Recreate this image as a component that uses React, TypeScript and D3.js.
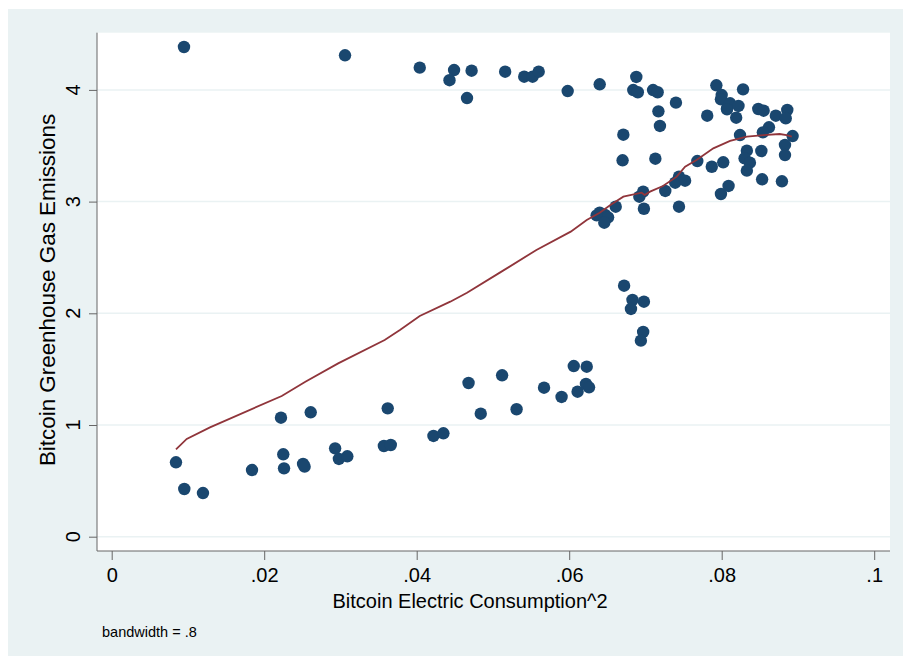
import React, { useEffect, useRef } from "react";
import * as d3 from "d3";

// electricity consumption^2 (x) and greenhouse gas emissions (y)
const consumption = [
  0.00948, 0.0306, 0.0404, 0.0449, 0.0443, 0.0472, 0.0466, 0.0516, 0.0541, 0.0552,
  0.056, 0.0598, 0.064, 0.0688, 0.0684, 0.069, 0.071, 0.0716, 0.074, 0.0717,
  0.0719, 0.0671, 0.067, 0.0713, 0.0768, 0.0787, 0.0802, 0.0793, 0.08, 0.0799,
  0.0807, 0.0781, 0.0799, 0.0809, 0.0744, 0.0739, 0.0752, 0.0726, 0.0697, 0.0692,
  0.0698, 0.0744, 0.0661, 0.064, 0.0647, 0.0636, 0.0651, 0.0646, 0.0811, 0.0807,
  0.0822, 0.0828, 0.0819, 0.0848, 0.0855, 0.0871, 0.0886, 0.0884, 0.0893, 0.0862,
  0.0854, 0.0824, 0.0833, 0.083, 0.0837, 0.0833, 0.0852, 0.0883, 0.0883, 0.0853,
  0.0879, 0.0672, 0.0683, 0.0698, 0.0681, 0.0697, 0.0694, 0.0606, 0.0623, 0.0622,
  0.0626, 0.0611, 0.0567, 0.059, 0.0512, 0.0531, 0.0468, 0.0484, 0.0422, 0.0435,
  0.00843, 0.00952, 0.01197, 0.0184, 0.0222, 0.0225, 0.0226, 0.0251, 0.0253, 0.0261,
  0.0293, 0.0298, 0.0309, 0.0362, 0.0357, 0.0366,
];
const emissions = [
  4.384, 4.31, 4.199, 4.178, 4.087, 4.172, 3.927, 4.163, 4.118, 4.118,
  4.163, 3.99, 4.05, 4.116, 3.999, 3.979, 3.999, 3.979, 3.886, 3.808,
  3.677, 3.599, 3.37, 3.384, 3.363, 3.312, 3.352, 4.041, 3.954, 3.916,
  3.835, 3.769, 3.068, 3.14, 3.223, 3.169, 3.187, 3.095, 3.089, 3.044,
  2.936, 2.954, 2.954, 2.901, 2.88, 2.877, 2.859, 2.811, 3.88, 3.826,
  3.856, 4.005, 3.751, 3.829, 3.814, 3.769, 3.82, 3.746, 3.587, 3.665,
  3.62, 3.596, 3.456, 3.388, 3.348, 3.277, 3.453, 3.507, 3.417, 3.2,
  3.182, 2.247, 2.119, 2.104, 2.039, 1.833, 1.755, 1.528, 1.522, 1.367,
  1.337, 1.298, 1.334, 1.251, 1.445, 1.141, 1.376, 1.101, 0.902, 0.926,
  0.666, 0.427, 0.391, 0.597, 1.065, 0.738, 0.612, 0.651, 0.627, 1.114,
  0.791, 0.696, 0.72, 1.149, 0.812, 0.821,
];

// lowess curve (bandwidth .8)
const lowessX = [
  0.00843, 0.00984, 0.01289, 0.0223, 0.0254, 0.0297, 0.0358, 0.0378, 0.0404, 0.0444,
  0.0466, 0.0509, 0.0557, 0.0602, 0.0623, 0.064, 0.0654, 0.0671, 0.0695, 0.0699,
  0.0706, 0.0723, 0.0741, 0.0752, 0.0767, 0.0789, 0.0811, 0.0833, 0.0855, 0.0876,
  0.0885, 0.0892,
];
const lowessY = [
  0.782, 0.875, 0.979, 1.26, 1.388, 1.552, 1.761, 1.851, 1.976, 2.104,
  2.184, 2.364, 2.567, 2.731, 2.835, 2.901, 2.97, 3.044, 3.08, 3.059,
  3.089, 3.14, 3.223, 3.312, 3.372, 3.477, 3.543, 3.581, 3.596, 3.605,
  3.596, 3.581,
];

const xTicks = [0, 0.02, 0.04, 0.06, 0.08, 0.1];
const xTickLabels = ["0", ".02", ".04", ".06", ".08", ".1"];
const yTicks = [0, 1, 2, 3, 4];
const yTickLabels = ["0", "1", "2", "3", "4"];

const W = 903, H = 662;
const font = "'Liberation Sans', Arial, sans-serif";

export default function App() {
  const ref = useRef<SVGSVGElement>(null);

  useEffect(() => {
    const svg = d3.select(ref.current);
    svg.selectAll("*").remove();

    // outer graph region
    svg.append("rect").attr("x", 8).attr("y", 9).attr("width", W - 8).attr("height", 647)
      .attr("fill", "#eaf2f3");

    const left = 97, right = 890, top = 32.7, bottom = 551;
    svg.append("rect").attr("x", left).attr("y", top)
      .attr("width", right - left).attr("height", bottom - top).attr("fill", "#ffffff");

    const x = d3.scaleLinear().domain([0, 0.1]).range([111.7, 874.2]);
    const y = d3.scaleLinear().domain([0, 4]).range([536.7, 89.9]);

    // gridlines
    svg.append("g").selectAll("line").data(yTicks).enter().append("line")
      .attr("x1", left).attr("x2", right)
      .attr("y1", d => y(d)).attr("y2", d => y(d))
      .attr("stroke", "#eaf2f3").attr("stroke-width", 1.5);

    // y axis (labels drawn separately, rotated like Stata)
    const yAxis = svg.append("g").attr("transform", `translate(${left},0)`)
      .call(d3.axisLeft(y).tickValues(yTicks).tickSize(8).tickSizeOuter(0).tickFormat(() => ""));
    yAxis.select(".domain").attr("d", `M0,${top}V${bottom}`).attr("stroke", "#666666");
    yAxis.selectAll(".tick line").attr("stroke", "#666666");

    svg.append("g").selectAll("text").data(yTicks).enter().append("text")
      .attr("transform", d => `translate(80,${y(d)}) rotate(-90)`)
      .attr("text-anchor", "middle")
      .attr("font-family", font).attr("font-size", 20).attr("fill", "#000")
      .text((d, i) => yTickLabels[i]);

    // x axis
    const xAxis = svg.append("g").attr("transform", `translate(0,${bottom})`)
      .call(d3.axisBottom(x).tickValues(xTicks).tickSize(9).tickPadding(8).tickSizeOuter(0)
        .tickFormat((d, i) => xTickLabels[i]));
    xAxis.select(".domain").attr("d", `M${left},0H${right}`).attr("stroke", "#666666");
    xAxis.selectAll(".tick line").attr("stroke", "#666666");
    xAxis.selectAll(".tick text").attr("font-family", font).attr("font-size", 20).attr("fill", "#000");

    // titles
    svg.append("text").attr("x", 470).attr("y", 608).attr("text-anchor", "middle")
      .attr("font-family", font).attr("font-size", 20).attr("fill", "#000")
      .text("Bitcoin Electric Consumption^2");
    svg.append("text").attr("transform", "translate(55,290) rotate(-90)").attr("text-anchor", "middle")
      .attr("font-family", font).attr("font-size", 22.4).attr("fill", "#000")
      .text("Bitcoin Greenhouse Gas Emissions");
    svg.append("text").attr("x", 102).attr("y", 637)
      .attr("font-family", font).attr("font-size", 14.5).attr("fill", "#000")
      .text("bandwidth = .8");

    // scatter
    svg.append("g").selectAll("circle").data(consumption).enter().append("circle")
      .attr("cx", d => x(d)).attr("cy", (d, i) => y(emissions[i]))
      .attr("r", 6.2).attr("fill", "#1a476f");

    // lowess
    const line = d3.line<number>().x(d => x(d)).y((d, i) => y(lowessY[i]));
    svg.append("path").datum(lowessX).attr("d", line)
      .attr("fill", "none").attr("stroke", "#90353b").attr("stroke-width", 1.8);
  }, []);

  return (
    <svg ref={ref} width={W} height={H}
      style={{ position: "absolute", left: 0, top: 0, background: "#ffffff" }} />
  );
}
